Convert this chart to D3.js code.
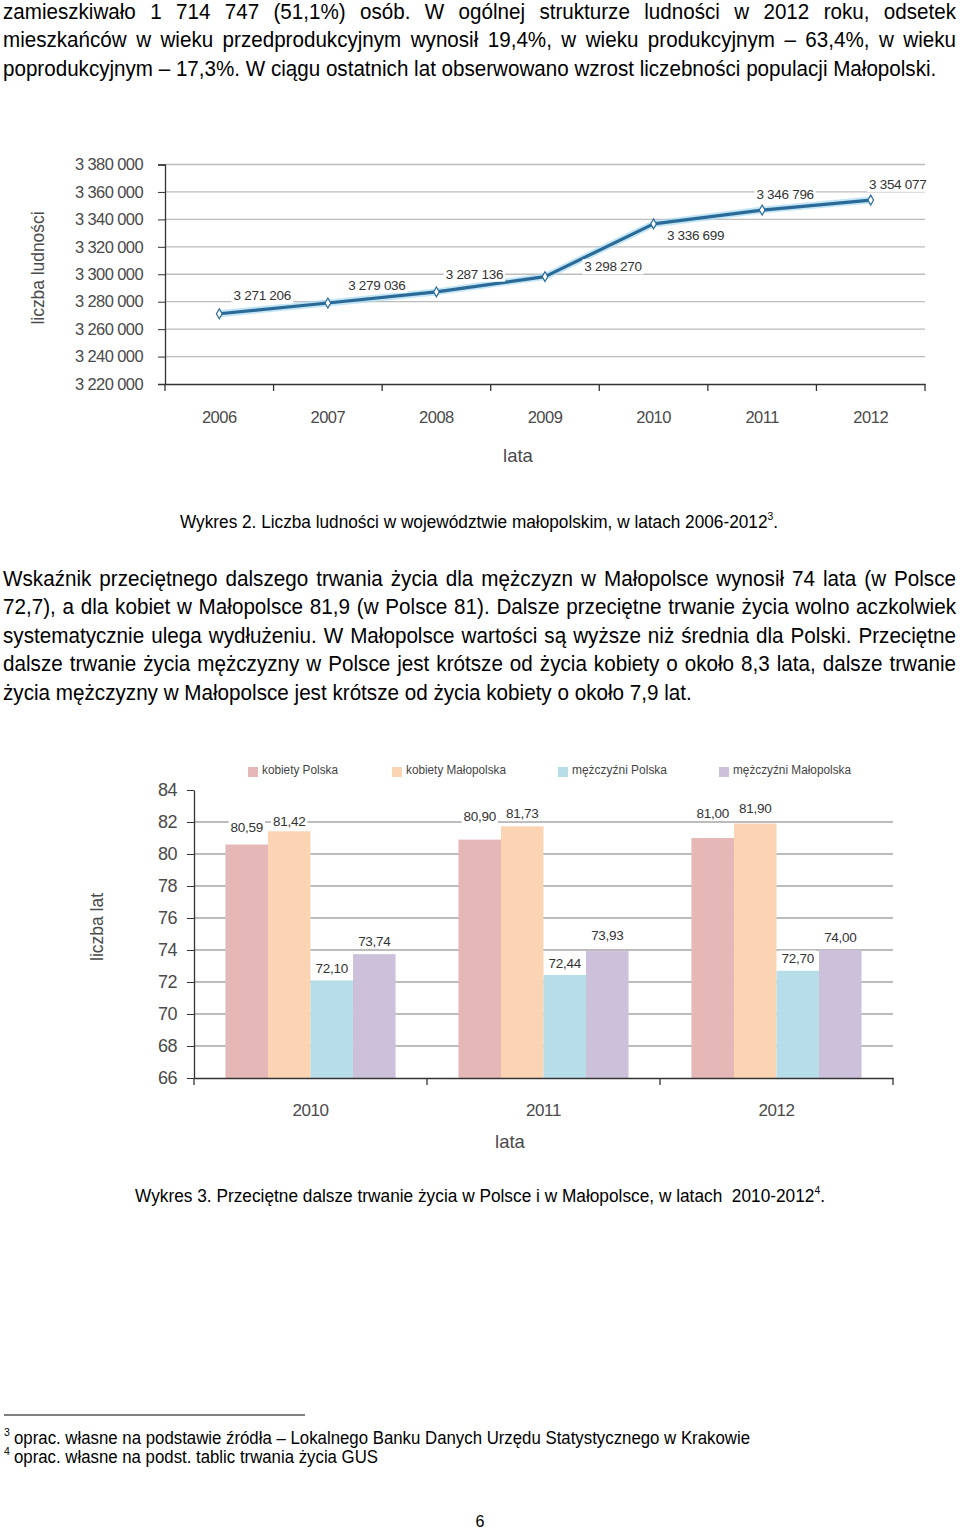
<!DOCTYPE html>
<html><head><meta charset="utf-8">
<script src="https://cdn.jsdelivr.net/npm/d3@7"></script>
<style>
html,body{margin:0;padding:0;background:#fff;}
svg{display:block;}
text{font-family:"Liberation Sans",Arial,sans-serif;}
</style></head><body>
<svg id="page" width="960" height="1529"></svg>
<script>
// ---------------- DATA ----------------
const popYears = ["2006","2007","2008","2009","2010","2011","2012"];
const popValues = [3271206, 3279036, 3287136, 3298270, 3336699, 3346796, 3354077];
const popTicks = [3220000, 3240000, 3260000, 3280000, 3300000, 3320000, 3340000, 3360000, 3380000];

const lifeYears = ["2010","2011","2012"];
const lifeSeries = ["kobiety Polska","kobiety Małopolska","mężczyźni Polska","mężczyźni Małopolska"];
const kobietyPolska = [80.59, 80.90, 81.00];
const kobietyMalopolska = [81.42, 81.73, 81.90];
const mezczyzniPolska = [72.10, 72.44, 72.70];
const mezczyzniMalopolska = [73.74, 73.93, 74.00];
const lifeTicks = [66, 68, 70, 72, 74, 76, 78, 80, 82, 84];

// ---------------- TEXT ----------------
const para1 = [
 "zamieszkiwało 1 714 747 (51,1%) osób. W ogólnej strukturze ludności w 2012 roku, odsetek",
 "mieszkańców w wieku przedprodukcyjnym wynosił 19,4%, w wieku produkcyjnym – 63,4%, w wieku",
 "poprodukcyjnym – 17,3%. W ciągu ostatnich lat obserwowano wzrost liczebności populacji Małopolski."
];
const para2 = [
 "Wskaźnik przeciętnego dalszego trwania życia dla mężczyzn w Małopolsce wynosił 74 lata (w Polsce",
 "72,7), a dla kobiet w Małopolsce 81,9 (w Polsce 81). Dalsze przeciętne trwanie życia wolno aczkolwiek",
 "systematycznie ulega wydłużeniu. W Małopolsce wartości są wyższe niż średnia dla Polski. Przeciętne",
 "dalsze trwanie życia mężczyzny w Polsce jest krótsze od życia kobiety o około 8,3 lata, dalsze trwanie",
 "życia mężczyzny w Małopolsce jest krótsze od życia kobiety o około 7,9 lat."
];

// ---------------- LAYOUT / STYLE ----------------
const svg = d3.select("#page");
const NARROW = 0.82;
const chartText = "#4a4a4a";

function measure(str, size) {
  const tmp = svg.append("text").attr("font-size", size).style("white-space", "pre").text(str);
  const w = tmp.node().getComputedTextLength();
  tmp.remove();
  return w;
}

function paragraph(lines, baselines, x, size, fullWidth, lastWidth) {
  const last = lines.length - 1;
  const sx = lastWidth / measure(lines[last], size);
  lines.forEach((s, i) => {
    const t = svg.append("text")
      .attr("transform", `translate(${x},${baselines[i]}) scale(${sx},1)`)
      .attr("font-size", size).attr("fill", "#000")
      .style("white-space", "pre").text(s);
    if (i < last) {
      const w = t.node().getComputedTextLength();
      const spaces = (s.match(/ /g) || []).length;
      t.style("word-spacing", ((fullWidth / sx - w) / spaces) + "px");
    }
  });
}

function narrowLine(x, y, str, size, target) {
  return svg.append("text")
    .attr("transform", `translate(${x},${y}) scale(${NARROW},1)`)
    .attr("font-size", size).attr("fill", "#000")
    .style("white-space", "pre").text(str)
    .attr("textLength", target / NARROW).attr("lengthAdjust", "spacingAndGlyphs");
}

paragraph(para1, [18.5, 47, 75.5], 3, 21.5, 953, 934);
paragraph(para2, [585.5, 614, 642.5, 671, 699.5], 3, 21.5, 953, 689);

// Captions with superscripts
function caption(x, y, main, sup, tail, size, target) {
  const t = svg.append("text")
    .attr("transform", `translate(${x},${y}) scale(${NARROW},1)`)
    .attr("font-size", size).attr("fill", "#000").style("white-space", "pre");
  t.append("tspan").text(main);
  t.append("tspan").attr("font-size", size * 0.6).attr("dy", -size * 0.38).text(sup);
  t.append("tspan").attr("dy", size * 0.38).text(tail);
  t.attr("textLength", target / NARROW).attr("lengthAdjust", "spacingAndGlyphs");
}
caption(180, 527.5, "Wykres 2. Liczba ludności w województwie małopolskim, w latach 2006-2012", "3", ".", 18.5, 598);
caption(135, 1201.5, "Wykres 3. Przeciętne dalsze trwanie życia w Polsce i w Małopolsce, w latach  2010-2012", "4", ".", 18.5, 690);

// Footnotes
svg.append("line").attr("x1", 4).attr("x2", 305).attr("y1", 1415).attr("y2", 1415)
  .attr("stroke", "#000").attr("stroke-width", 1);
svg.append("text").attr("x", 4).attr("y", 1436).attr("font-size", 10.5).text("3");
narrowLine(14, 1443.5, "oprac. własne na podstawie źródła – Lokalnego Banku Danych Urzędu Statystycznego w Krakowie", 17.5, 736);
svg.append("text").attr("x", 4).attr("y", 1455).attr("font-size", 10.5).text("4");
narrowLine(14, 1462.5, "oprac. własne na podst. tablic trwania życia GUS", 17.5, 364);
svg.append("text").attr("x", 480).attr("y", 1527).attr("text-anchor", "middle")
  .attr("font-size", 16).attr("fill", "#000").text("6");

// ================= CHART 1: line =================
const loc = d3.formatLocale({thousands: "\u00a0", grouping: [3], decimal: ",", currency: ["", ""]});
const fmtPop = loc.format(",d");
const lc = {left: 165, right: 925, top: 164.5, bottom: 384};
const xPop = d3.scaleBand().domain(popYears).range([lc.left, lc.right]);
const yPop = d3.scaleLinear().domain([3220000, 3380000]).range([lc.bottom, lc.top]);
const g1 = svg.append("g");

g1.append("g").selectAll("line").data(popTicks.slice(1)).join("line")
  .attr("x1", lc.left).attr("x2", lc.right)
  .attr("y1", d => yPop(d)).attr("y2", d => yPop(d))
  .attr("stroke", "#bdbdbd").attr("stroke-width", 1.3);

const yAx1 = g1.append("g").attr("transform", `translate(${lc.left},0)`)
  .call(d3.axisLeft(yPop).tickValues(popTicks).tickSize(7).tickPadding(15).tickFormat(fmtPop));
yAx1.select(".domain").attr("stroke", "#333").attr("stroke-width", 1.3);
yAx1.selectAll(".tick line").attr("stroke", "#333");
yAx1.selectAll("text").attr("font-size", 16.5).attr("fill", chartText)
  .attr("font-family", "Liberation Sans, Arial, sans-serif").style("letter-spacing", "-0.6px");

const xAx1 = g1.append("g").attr("transform", `translate(0,${lc.bottom})`)
  .call(d3.axisBottom(xPop).tickSize(0).tickPadding(27));
xAx1.select(".domain").attr("stroke", "#333").attr("stroke-width", 1.3);
xAx1.selectAll("text").attr("font-size", 16.5).attr("fill", chartText)
  .attr("font-family", "Liberation Sans, Arial, sans-serif").style("letter-spacing", "-0.5px");
const popBounds = popYears.map(d => xPop(d)).concat([xPop.range()[1]]);
g1.append("g").selectAll("line").data(popBounds).join("line")
  .attr("x1", d => d).attr("x2", d => d).attr("y1", lc.bottom).attr("y2", lc.bottom + 7)
  .attr("stroke", "#333").attr("stroke-width", 1.3);

const popPts = popYears.map((y, i) => [xPop(y) + xPop.bandwidth() / 2, yPop(popValues[i])]);
const lineGen = d3.line();
g1.append("path").attr("d", lineGen(popPts)).attr("fill", "none")
  .attr("stroke", "#a9dcf3").attr("stroke-width", 7).attr("stroke-linejoin", "round").attr("opacity", 0.7);
g1.append("path").attr("d", lineGen(popPts)).attr("fill", "none")
  .attr("stroke", "#2b6a96").attr("stroke-width", 3.2).attr("stroke-linejoin", "round");
g1.append("g").selectAll("path").data(popPts).join("path")
  .attr("transform", d => `translate(${d[0]},${d[1]})`)
  .attr("d", d3.symbol(d3.symbolDiamond, 28))
  .attr("fill", "#fff").attr("stroke", "#2b6a96").attr("stroke-width", 1.2);

const popLabelOffset = [[43, -18], [49, -18], [38, -18], [68, -10], [42, 11], [23, -16], [27, -16]];
const lab1 = g1.append("g");
popPts.forEach((p, i) => {
  const gl = lab1.append("g");
  const t = gl.append("text").attr("x", p[0] + popLabelOffset[i][0]).attr("y", p[1] + popLabelOffset[i][1])
    .attr("dy", "0.35em").attr("text-anchor", "middle").attr("font-size", 13.5).attr("fill", "#333")
    .style("letter-spacing", "-0.3px").text(fmtPop(popValues[i]));
  const b = t.node().getBBox();
  gl.insert("rect", "text").attr("x", b.x - 2).attr("y", b.y).attr("width", b.width + 4).attr("height", b.height)
    .attr("fill", "#fff");
});

g1.append("text").attr("transform", "translate(38,268) rotate(-90)").attr("text-anchor", "middle")
  .attr("dy", "0.35em").attr("font-size", 18.5).attr("fill", chartText)
  .attr("textLength", 113).attr("lengthAdjust", "spacingAndGlyphs").text("liczba ludności");
g1.append("text").attr("x", 518).attr("y", 462).attr("text-anchor", "middle")
  .attr("font-size", 18.5).attr("fill", chartText).text("lata");

// ================= CHART 2: bars =================
const bc = {left: 194, right: 893, top: 790, bottom: 1078};
const lifeValues = [kobietyPolska, kobietyMalopolska, mezczyzniPolska, mezczyzniMalopolska];
const lifeColors = ["#e5b8b7", "#fbd4b4", "#b7dde8", "#ccc0da"];
const x0 = d3.scaleBand().domain(lifeYears).range([bc.left, bc.right]);
const bw = x0.bandwidth();
const x1 = d3.scaleBand().domain(lifeSeries).range([bw * 0.135, bw * 0.865]);
const yLife = d3.scaleLinear().domain([66, 84]).range([bc.bottom, bc.top]);
const color = d3.scaleOrdinal().domain(lifeSeries).range(lifeColors);
const g2 = svg.append("g");

g2.append("g").selectAll("line").data(lifeTicks.filter(d => d > 66 && d < 84)).join("line")
  .attr("x1", bc.left).attr("x2", bc.right)
  .attr("y1", d => yLife(d)).attr("y2", d => yLife(d))
  .attr("stroke", "#a6a6a6").attr("stroke-width", 1.3);

const barData = [];
lifeYears.forEach((yr, i) => lifeSeries.forEach((s, j) => barData.push({yr, s, i, j, v: lifeValues[j][i]})));
g2.append("g").selectAll("rect").data(barData).join("rect")
  .attr("x", d => x0(d.yr) + x1(d.s)).attr("width", x1.bandwidth())
  .attr("y", d => yLife(d.v)).attr("height", d => bc.bottom - yLife(d.v))
  .attr("fill", d => color(d.s));

const fmtLife = loc.format(".2f");
const lifeLabelDy = [[-17, -10, -12, -13], [-23, -13, -12, -16], [-25, -15, -13, -13]];
const lab2 = g2.append("g");
barData.forEach(d => {
  const gl = lab2.append("g");
  const t = gl.append("text").attr("x", x0(d.yr) + x1(d.s) + x1.bandwidth() / 2)
    .attr("y", yLife(d.v) + lifeLabelDy[d.i][d.j]).attr("dy", "0.35em")
    .attr("text-anchor", "middle").attr("font-size", 13.5).attr("fill", "#333")
    .style("letter-spacing", "-0.3px").text(fmtLife(d.v));
  const b = t.node().getBBox();
  gl.insert("rect", "text").attr("x", b.x - 2).attr("y", b.y).attr("width", b.width + 4).attr("height", b.height)
    .attr("fill", "#fff");
});

const yAx2 = g2.append("g").attr("transform", `translate(${bc.left},0)`)
  .call(d3.axisLeft(yLife).tickValues(lifeTicks).tickSize(7).tickPadding(10).tickSizeOuter(0));
yAx2.select(".domain").attr("stroke", "#333").attr("stroke-width", 1.3);
yAx2.selectAll(".tick line").attr("stroke", "#333");
yAx2.selectAll("text").attr("font-size", 18).attr("fill", chartText)
  .attr("font-family", "Liberation Sans, Arial, sans-serif").style("letter-spacing", "-0.5px");

const xAx2 = g2.append("g").attr("transform", `translate(0,${bc.bottom})`)
  .call(d3.axisBottom(x0).tickSize(0).tickPadding(26));
xAx2.select(".domain").attr("stroke", "#333").attr("stroke-width", 1.3);
xAx2.selectAll("text").attr("font-size", 17).attr("fill", chartText)
  .attr("font-family", "Liberation Sans, Arial, sans-serif").style("letter-spacing", "-0.4px");
const lifeBounds = lifeYears.map(d => x0(d)).concat([x0.range()[1]]);
g2.append("g").selectAll("line").data(lifeBounds).join("line")
  .attr("x1", d => d).attr("x2", d => d).attr("y1", bc.bottom).attr("y2", bc.bottom + 7)
  .attr("stroke", "#333").attr("stroke-width", 1.3);

g2.append("text").attr("transform", "translate(97,927) rotate(-90)").attr("text-anchor", "middle")
  .attr("dy", "0.35em").attr("font-size", 18.5).attr("fill", chartText)
  .attr("textLength", 68).attr("lengthAdjust", "spacingAndGlyphs").text("liczba lat");
g2.append("text").attr("x", 510).attr("y", 1148).attr("text-anchor", "middle")
  .attr("font-size", 18.5).attr("fill", chartText).text("lata");

const legX = [248, 392, 558, 719];
const legW = [76, 100, 95, 118];
const leg = g2.append("g");
lifeSeries.forEach((s, i) => {
  leg.append("rect").attr("x", legX[i]).attr("y", 767).attr("width", 10).attr("height", 10).attr("fill", color(s));
  leg.append("text").attr("x", legX[i] + 14).attr("y", 774).attr("font-size", 12.5).attr("fill", "#444")
    .attr("textLength", legW[i]).attr("lengthAdjust", "spacingAndGlyphs").text(s);
});
</script>
</body></html>
